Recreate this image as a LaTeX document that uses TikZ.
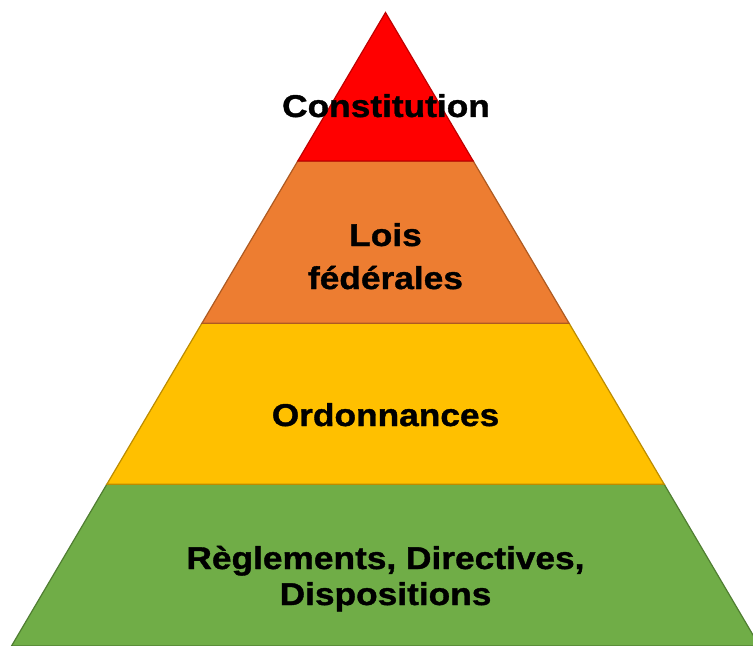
\documentclass[tikz,border=0pt]{standalone}
\usepackage{fontspec}
\newfontfamily\pyrfont[FakeStretch=1.12,FakeBold=1.2]{Liberation Sans}
\definecolor{cred}{HTML}{FF0000}
\definecolor{credb}{HTML}{C00000}
\definecolor{corange}{HTML}{ED7D31}
\definecolor{corangeb}{HTML}{AE5A21}
\definecolor{cyellow}{HTML}{FFC000}
\definecolor{cyellowb}{HTML}{BC8C00}
\definecolor{cgreen}{HTML}{70AD47}
\definecolor{cgreenb}{HTML}{507E32}
\begin{document}
\begin{tikzpicture}[x=1bp,y=-1bp,
  layer/.style={line width=1.2bp, line join=miter},
  lbl/.style={anchor=base, inner sep=0pt, font=\pyrfont\bfseries\fontsize{31.5bp}{40bp}\selectfont, text=black}]
\useasboundingbox (0,0) rectangle (753,646);
\clip (0,0) rectangle (753,646);
% apex (385.5,12.5), base (11.5,646)-(759.5,646), slope 0.5906
\coordinate (A) at (385.5,12.5);
\coordinate (L1) at (297.8,161);   \coordinate (R1) at (473.2,161);
\coordinate (L2) at (201.9,323.3); \coordinate (R2) at (569.1,323.3);
\coordinate (L3) at (106.8,484.3); \coordinate (R3) at (664.2,484.3);
\coordinate (L4) at (11.5,646);    \coordinate (R4) at (759.5,646);
\draw[layer, fill=cgreen, draw=cgreenb] (L3) -- (R3) -- (R4) -- (L4) -- cycle;
\draw[layer, fill=cyellow, draw=cyellowb] (L2) -- (R2) -- (R3) -- (L3) -- cycle;
\draw[layer, fill=corange, draw=corangeb] (L1) -- (R1) -- (R2) -- (L2) -- cycle;
\draw[layer, fill=cred, draw=credb] (A) -- (R1) -- (L1) -- cycle;
\node[lbl] (t1) at (386,117) {Constitution};
\node[lbl] (t2a) at (385.5,246) {Lois};
\node[lbl] (t2b) at (385.5,289) {fédérales};
\node[lbl] (t3) at (385.5,426) {Ordonnances};
\node[lbl] (t4a) at (385.5,569) {Règlements, Directives,};
\node[lbl] (t4b) at (385.5,605) {Dispositions};
\end{tikzpicture}
\end{document}
